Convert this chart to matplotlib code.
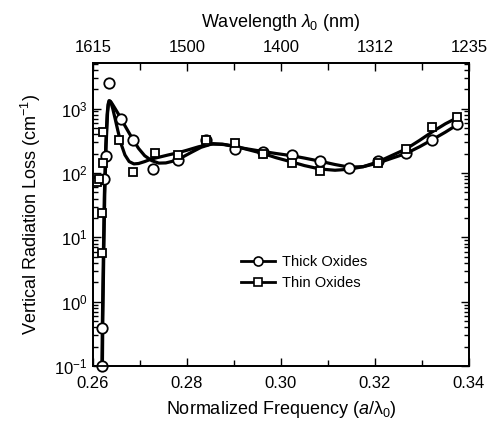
import math
import matplotlib
matplotlib.use("Agg")
import matplotlib.pyplot as plt
from matplotlib.ticker import FixedLocator, LogLocator, NullFormatter, FuncFormatter

plt.rcParams['font.family'] = ['Liberation Sans', 'DejaVu Sans']
plt.rcParams['mathtext.fontset'] = 'custom'
plt.rcParams['mathtext.rm'] = 'Liberation Sans'
plt.rcParams['mathtext.it'] = 'Liberation Sans:italic'
plt.rcParams['mathtext.bf'] = 'Liberation Sans:bold'

# Measured points
thick_x = [0.2619, 0.2619, 0.2623, 0.2628, 0.2634, 0.2660, 0.2685, 0.2728, 0.2781, 0.2840,
           0.2902, 0.2962, 0.3023, 0.3083, 0.3145, 0.3206, 0.3266, 0.3321, 0.3374]
thick_y = [0.1, 0.39, 80, 183, 2500, 690, 325, 115, 158, 320,
           232, 213, 190, 154, 120, 155, 205, 327, 580]

thin_x = [0.2619, 0.2619, 0.2609, 0.2613, 0.2621, 0.2621, 0.2655, 0.2685, 0.2732, 0.2781,
          0.2840, 0.2902, 0.2962, 0.3023, 0.3083, 0.3206, 0.3266, 0.3321, 0.3374]
thin_y = [5.7, 24, 72, 80, 144, 434, 326, 103, 205, 190,
          330, 293, 198, 143, 107, 145, 235, 517, 740]

# Fitted curves
thick_fit_x = [0.2619, 0.2620, 0.2622, 0.2624, 0.2627, 0.2630, 0.2632, 0.2634, 0.2637, 0.2641,
               0.2647, 0.2655, 0.2665, 0.2675, 0.2685, 0.2697, 0.2710, 0.2725, 0.2740, 0.2755,
               0.2770, 0.2790, 0.2810, 0.2830, 0.2855, 0.2880, 0.2902, 0.2930, 0.2962, 0.2990,
               0.3023, 0.3050, 0.3083, 0.3115, 0.3145, 0.3175, 0.3206, 0.3235, 0.3266, 0.3295,
               0.3321, 0.3350, 0.3375]
thick_fit_y = [0.1, 0.5, 5, 40, 250, 800, 1150, 1320, 1300, 1180,
               1000, 800, 590, 440, 330, 240, 185, 155, 142, 143,
               152, 175, 210, 250, 285, 275, 255, 235, 215, 200,
               185, 170, 152, 135, 123, 125, 142, 168, 200, 255,
               325, 430, 560]
thin_fit_x = [0.2620, 0.2621, 0.2623, 0.2625, 0.2628, 0.2631, 0.2633, 0.2635, 0.2638, 0.2642,
              0.2647, 0.2653, 0.2660, 0.2668, 0.2677, 0.2687, 0.2697, 0.2710, 0.2725, 0.2740,
              0.2760, 0.2780, 0.2800, 0.2825, 0.2850, 0.2875, 0.2902, 0.2930, 0.2962, 0.2990,
              0.3023, 0.3050, 0.3083, 0.3115, 0.3145, 0.3175, 0.3206, 0.3235, 0.3266, 0.3295,
              0.3321, 0.3350, 0.3375]
thin_fit_y = [0.1, 0.6, 6, 45, 280, 850, 1180, 1320, 1250, 1000,
              700, 450, 280, 190, 150, 138, 140, 150, 165, 175,
              190, 205, 225, 255, 280, 280, 260, 230, 200, 172,
              148, 130, 115, 110, 114, 125, 148, 185, 235, 320,
              430, 580, 720]

xticks = [0.26, 0.28, 0.30, 0.32, 0.34]
xticklabels = ['0.26', '0.28', '0.30', '0.32', '0.34']
top_labels = ['1615', '1500', '1400', '1312', '1235']
minor_x = [0.27, 0.29, 0.31, 0.33]

fig = plt.figure(figsize=(4.91, 4.24), dpi=100)
ax = fig.add_axes([0.1894, 0.1368, 0.7656, 0.7146])

ax.plot(thick_fit_x, thick_fit_y, color='black', lw=2.3, zorder=2)
ax.plot(thin_fit_x, thin_fit_y, color='black', lw=2.3, zorder=2)
ax.plot(thick_x, thick_y, linestyle='none', marker='o', ms=7.5, mfc='white',
        mec='black', mew=1.3, zorder=3, clip_on=False)
ax.plot(thin_x, thin_y, linestyle='none', marker='s', ms=6.3, mfc='white',
        mec='black', mew=1.3, zorder=3)

# legend proxies
h1, = ax.plot([], [], color='black', lw=2.0, marker='o', ms=6.5, mfc='white', mec='black', mew=1.2)
h2, = ax.plot([], [], color='black', lw=2.0, marker='s', ms=5.8, mfc='white', mec='black', mew=1.2)
ax.legend([h1, h2], ['Thick Oxides', 'Thin Oxides'], frameon=False, fontsize=10.5,
          loc='upper left', bbox_to_anchor=(0.36, 0.41), handlelength=2.3,
          handletextpad=0.5, labelspacing=0.5)

ax.set_yscale('log')
ax.set_xlim(0.26, 0.34)
ax.set_ylim(0.1, 5100)
ax.xaxis.set_major_locator(FixedLocator(xticks))
ax.set_xticklabels(xticklabels)
ax.xaxis.set_minor_locator(FixedLocator(minor_x))
ax.yaxis.set_major_locator(LogLocator(base=10, numticks=10))
ax.yaxis.set_minor_locator(LogLocator(base=10, subs=range(2, 10), numticks=20))
ax.yaxis.set_minor_formatter(NullFormatter())
ax.yaxis.set_major_formatter(FuncFormatter(lambda v, p: r'$10^{%d}$' % round(math.log10(v))))

ax.tick_params(axis='both', which='both', direction='in', top=False, right=True,
               labelsize=12, width=1.0)
ax.tick_params(axis='x', which='major', pad=7)
ax.tick_params(axis='y', which='major', pad=4)
ax.tick_params(which='major', length=6)
ax.tick_params(which='minor', length=3.5)
ax.tick_params(axis='x', which='minor', length=4)
for s in ax.spines.values():
    s.set_linewidth(1.3)

ax.set_xlabel(r'Normalized Frequency ($a$/$\mathregular{\lambda_0}$)', fontsize=13, labelpad=6)
ax.set_ylabel(r'Vertical Radiation Loss (cm$^{-1}$)', fontsize=13, labelpad=8)

ax2 = ax.twiny()
ax2.set_xlim(ax.get_xlim())
ax2.xaxis.set_major_locator(FixedLocator(xticks))
ax2.set_xticklabels(top_labels)
ax2.xaxis.set_minor_locator(FixedLocator(minor_x))
ax2.tick_params(axis='x', which='both', direction='in', labelsize=12, width=1.0, pad=6)
ax2.tick_params(which='major', length=6)
ax2.tick_params(which='minor', length=5)
ax2.set_xlabel(r'Wavelength $\lambda_0$ (nm)', fontsize=13, labelpad=9)
for s in ax2.spines.values():
    s.set_linewidth(1.3)

fig.savefig('out.png', dpi=100)
